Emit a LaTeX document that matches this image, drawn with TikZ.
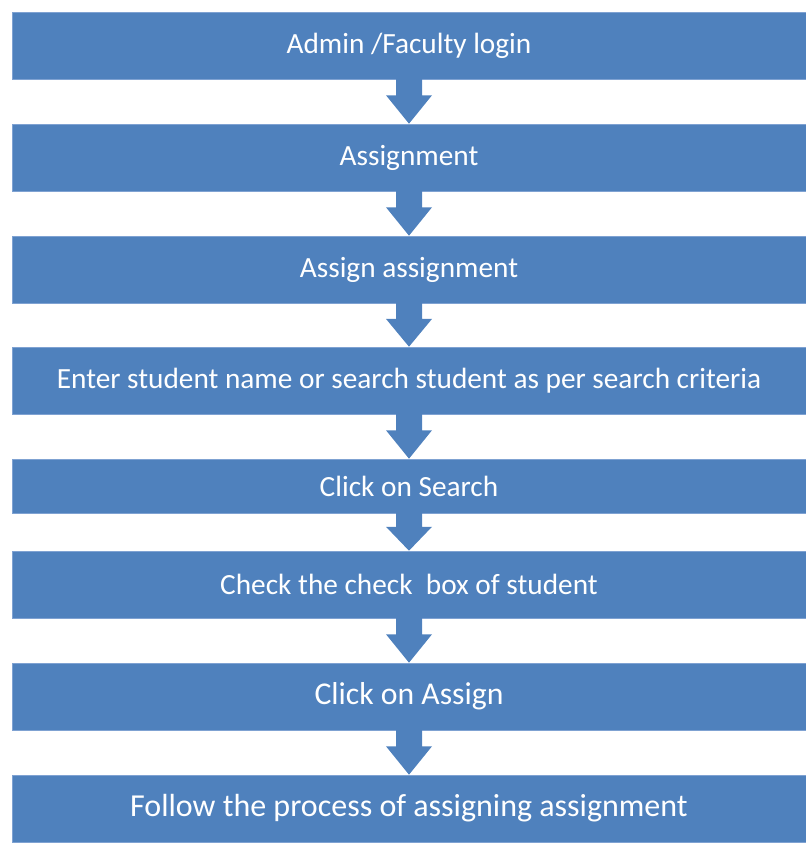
\documentclass[tikz,border=0pt]{standalone}
\usepackage{fontspec}
\setmainfont{Carlito}
\usetikzlibrary{calc}
\definecolor{boxblue}{HTML}{4F81BD}
\definecolor{boxedge}{HTML}{7FA2D2}
\tikzset{
  stepbox/.style={fill=boxblue, draw=boxedge, line width=0.6pt, minimum width=794pt, inner sep=0pt,
    text=white, font=\fontsize{29.3}{33}\selectfont, anchor=center},
  arrowfill/.style={fill=boxblue, draw=none}
}
\newcommand\blockarrow[2]{%
  \fill[arrowfill] let \p1=(#1.south), \p2=(#2.north), \n1={\y1-0.36*(\y1-\y2)} in
    (\x1-13pt,\y1+1pt) -- (\x1+13pt,\y1+1pt) -- (\x1+13pt,\n1) -- (\x1+23pt,\n1)
    -- (\x1,\y2) -- (\x1-23pt,\n1) -- (\x1-13pt,\n1) -- cycle;}
\begin{document}
\begin{tikzpicture}[x=1pt,y=-1pt]
\useasboundingbox (0,0) rectangle (806,849);
\node[stepbox, minimum height=67pt] (b1) at (409,45.5) {Admin /Faculty login};
\node[stepbox, minimum height=67pt] (b2) at (409,157.5) {Assignment};
\node[stepbox, minimum height=67pt] (b3) at (409,269.5) {Assign assignment};
\node[stepbox, minimum height=67pt] (b4) at (409,380.5) {Enter student name or search student as per search criteria};
\node[stepbox, minimum height=54pt] (b5) at (409,486) {Click on Search};
\node[stepbox, minimum height=67pt] (b6) at (409,584.5) {Check the check\ \ box of student};
\node[stepbox, minimum height=67pt, font=\fontsize{31.7}{35}\selectfont] (b7) at (409,696.5) {Click on Assign};
\node[stepbox, minimum height=67pt, font=\fontsize{32}{36}\selectfont] (b8) at (409,808.5) {Follow the process of assigning assignment};
\blockarrow{b1}{b2}
\blockarrow{b2}{b3}
\blockarrow{b3}{b4}
\blockarrow{b4}{b5}
\blockarrow{b5}{b6}
\blockarrow{b6}{b7}
\blockarrow{b7}{b8}
\end{tikzpicture}
\end{document}
